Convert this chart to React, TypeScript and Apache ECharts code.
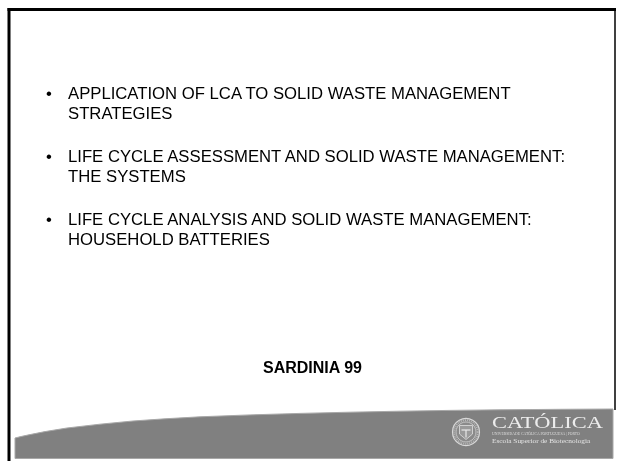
import React, { useEffect, useRef } from "react";
import * as echarts from "echarts";

const bulletLines: string[][] = [
  ["APPLICATION OF LCA TO SOLID WASTE MANAGEMENT", "STRATEGIES"],
  ["LIFE CYCLE ASSESSMENT AND SOLID WASTE MANAGEMENT:", "THE SYSTEMS"],
  ["LIFE CYCLE ANALYSIS AND SOLID WASTE MANAGEMENT:", "HOUSEHOLD BATTERIES"],
];
const bulletY: number[] = [93, 156, 219];
const footerTitle = "SARDINIA 99";
const logoTitle = "CATÓLICA";
const logoSub1 = "UNIVERSIDADE CATÓLICA PORTUGUESA | PORTO";
const logoSub2 = "Escola Superior de Biotecnologia";

const W = 618;
const H = 461;

export default function App() {
  const ref = useRef<HTMLDivElement>(null);
  useEffect(() => {
    if (!ref.current) return;
    const chart = echarts.init(ref.current, undefined, { renderer: "svg", width: W, height: H });
    const sans = "'Liberation Sans', Arial, sans-serif";
    const serif = "'Liberation Serif', 'Times New Roman', serif";
    const elements: any[] = [];
    elements.push({ type: "rect", shape: { x: 0, y: 0, width: W, height: H }, style: { fill: "#ffffff" }, z: 0 });
    // borders
    elements.push({ type: "line", shape: { x1: 9, y1: 8, x2: 9, y2: H }, style: { stroke: "#000", lineWidth: 3 }, z: 1 });
    elements.push({ type: "line", shape: { x1: 7.5, y1: 9.5, x2: 616, y2: 9.5 }, style: { stroke: "#000", lineWidth: 3 }, z: 1 });
    elements.push({ type: "line", shape: { x1: 615, y1: 8, x2: 615, y2: 410 }, style: { stroke: "#000", lineWidth: 1.5 }, z: 1 });
    // gray swoosh
    const top: number[][] = [
      [15, 438], [22, 436.3], [30, 434.6], [45, 431.6], [67, 428], [100, 424.2], [133, 421], [165, 418.8],
      [200, 416.8], [250, 414.9], [300, 413.4], [350, 412.2], [400, 411.2], [450, 410.4], [500, 409.8],
      [560, 409.3], [613, 409],
    ];
    elements.push({
      type: "polygon",
      shape: { points: [...top, [613, 458.5], [15, 458.5]] },
      style: { fill: "#808080", stroke: "#a8a8a8", lineWidth: 1 },
      z: 2,
    });
    // bullets
    const fs = 16.7;
    bulletLines.forEach((lines, i) => {
      elements.push({
        type: "text", x: 49, y: bulletY[i],
        style: { text: "•", fontFamily: sans, fontSize: fs, fill: "#000", align: "center", verticalAlign: "middle" },
        z: 3,
      });
      lines.forEach((t, j) => {
        elements.push({
          type: "text", x: 68, y: bulletY[i] + j * 20.5,
          style: { text: t, fontFamily: sans, fontSize: fs, fill: "#000", align: "left", verticalAlign: "middle" },
          z: 3,
        });
      });
    });
    elements.push({
      type: "text", x: 312.5, y: 367.5,
      style: { text: footerTitle, fontFamily: sans, fontSize: 16, fontWeight: "bold", fill: "#000", align: "center", verticalAlign: "middle" },
      z: 3,
    });
    // logo seal
    const cx = 466, cy = 432;
    elements.push({ type: "circle", shape: { cx, cy, r: 13.5 }, style: { fill: "#8a8a8a", stroke: "#d8d8d8", lineWidth: 1.2 }, z: 4 });
    elements.push({ type: "circle", shape: { cx, cy, r: 11.8 }, style: { fill: "none", stroke: "#b8b8b8", lineWidth: 1.8, lineDash: [1, 1] }, z: 4 });
    elements.push({ type: "circle", shape: { cx, cy, r: 10 }, style: { fill: "none", stroke: "#d0d0d0", lineWidth: 0.8 }, z: 4 });
    elements.push({ type: "polygon", shape: { points: [[cx - 6.5, cy - 6.5], [cx + 6.5, cy - 6.5], [cx + 6.5, cy + 2], [cx, cy + 7.5], [cx - 6.5, cy + 2]] }, style: { fill: "#9a9a9a", stroke: "#e0e0e0", lineWidth: 0.8 }, z: 4 });
    elements.push({ type: "line", shape: { x1: cx - 4.5, y1: cy - 2, x2: cx + 4.5, y2: cy - 2 }, style: { stroke: "#e8e8e8", lineWidth: 1.2 }, z: 4 });
    elements.push({ type: "line", shape: { x1: cx, y1: cy - 2, x2: cx, y2: cy + 5.5 }, style: { stroke: "#e8e8e8", lineWidth: 1.2 }, z: 4 });
    // logo texts
    elements.push({
      type: "text", x: 492, y: 422.5, scaleX: 1.32,
      style: { text: logoTitle, fontFamily: serif, fontSize: 17, fill: "#ececec", align: "left", verticalAlign: "middle" },
      z: 4,
    });
    elements.push({
      type: "text", x: 492, y: 434.5, scaleX: 1.05,
      style: { text: logoSub1, fontFamily: serif, fontSize: 3.6, fill: "#dcdcdc", align: "left", verticalAlign: "middle" },
      z: 4,
    });
    elements.push({
      type: "text", x: 492, y: 441.5, scaleX: 1.05,
      style: { text: logoSub2, fontFamily: serif, fontSize: 7, fill: "#e4e4e4", align: "left", verticalAlign: "middle" },
      z: 4,
    });
    chart.setOption({ animation: false, graphic: { elements } });
    return () => chart.dispose();
  }, []);
  return <div ref={ref} style={{ position: "fixed", left: 0, top: 0, width: W, height: H }} />;
}
